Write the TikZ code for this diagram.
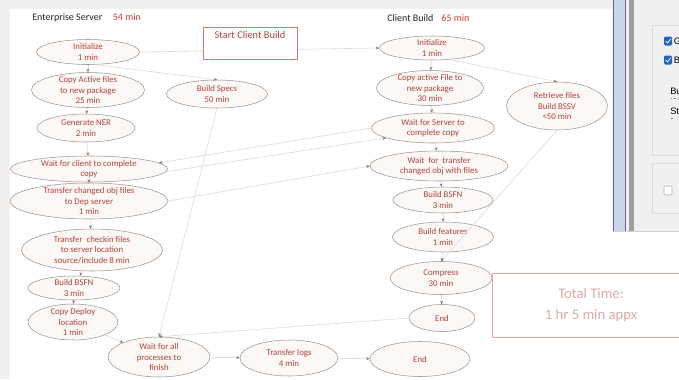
\documentclass[tikz,border=0pt]{standalone}
\usepackage{fontspec}
\setmainfont{Carlito}
\newfontfamily\uifont{Liberation Sans}
\usetikzlibrary{shapes.geometric,arrows.meta}

\begin{document}
\begin{tikzpicture}[x=0.75pt,y=-0.75pt,
    proc/.style={ellipse,draw=elline,fill=elfill,line width=0.4pt,text=txtred,
      font=\fontsize{6.6}{7.9}\selectfont,align=center,inner xsep=-40pt,inner ysep=-12pt},
    dims/.style 2 args={minimum width=#1*0.75pt,minimum height=#2*0.75pt},
    lnk/.style={draw=edgecol,line width=0.45pt,-{Stealth[length=2.6pt,width=2.2pt,color=tipcol]}},
    head/.style={anchor=west,inner sep=0pt,text=black!85,font=\fontsize{7.5}{9}\selectfont},
    uitxt/.style={anchor=west,inner sep=0pt,font=\uifont\fontsize{7}{8}\selectfont}]
        %colores
        \definecolor{txtred}{HTML}{B5423A}
        \definecolor{headred}{HTML}{D93A2F}
        \definecolor{elline}{HTML}{9C9696}
        \definecolor{elfill}{HTML}{FCF8F6}
        \definecolor{edgecol}{HTML}{E3D8D8}
        \definecolor{tipcol}{HTML}{8C6F6F}
        \definecolor{framegray}{HTML}{F2F0EE}
        \definecolor{panelgray}{HTML}{F0F0F0}
        \definecolor{stripblue}{HTML}{C8D6EA}
        \definecolor{cbblue}{HTML}{1F63C6}

        \useasboundingbox (0,0) rectangle (679,379);
        % fondo
        \fill[framegray] (0,0) rectangle (679,379);
        \fill[white] (10,9) -- (612,9) -- (612,231) -- (679,231) -- (679,379) -- (10,379) -- cycle;

        % ventana a la derecha
        \fill[panelgray] (634,0) rectangle (679,231);
        \fill[stripblue] (613,0) rectangle (625,231);
        \draw[gray!80!blue] (613,0) -- (613,231) (625,0) -- (625,231);
        \fill[gray!75] (629,0) rectangle (634,231);
        \draw[gray!35] (613,231.5) -- (679,231.5);
        \draw[gray!30] (679,25) -| (652,155) -- (679,155);
        \draw[gray!30] (679,163) -| (652,213) -- (679,213);
        \foreach \y/\t in {41/G,60/B}{
            \fill[cbblue,rounded corners=1pt] (664,\y-4.5) rectangle (672,\y+4.5);
            \draw[white,line width=0.6pt] (665.6,\y) -- (667.6,\y+2) -- (670.6,\y-2.2);
            \node[uitxt] (ui\t) at (673.5,\y) {\t};
        }
        \node[uitxt] (uibu) at (670,91) {Bu};
        \draw[gray,dash pattern=on 1pt off 1.6pt] (671,98) -- (679,98);
        \node[uitxt] (uist) at (670,111) {St};
        \draw[gray] (671,118) -- (673,118);
        \draw[gray!60,fill=white,rounded corners=1pt] (664,186) rectangle (672,195);

        % titulos
        \node[head] (eshead) at (32,18) {Enterprise Server\hspace{8pt}\textcolor{headred}{54 min}};
        \node[head] (cbhead) at (387,18) {Client Build\hspace{6pt}\textcolor{headred}{65 min}};

        % Enterprise Server
        \node[proc,dims={103}{25}] (esinit) at (88,52) {Initialize\\1 min};
        \node[proc,dims={113}{35}] (escopy) at (88,90) {Copy Active files\\to new package\\25 min};
        \node[proc,dims={98}{28}] (esner) at (86,128) {Generate NER\\2 min};
        \node[proc,dims={157}{26}] (eswait) at (89,169) {Wait for client to complete\\copy};
        \node[proc,dims={158}{36}] (estrans) at (89,201) {Transfer changed obj files\\to Dep server\\1 min};
        \node[proc,dims={141}{42}] (escheck) at (92,250) {Transfer\ \ checkin files\\to server location\\source/include 8 min};
        \node[proc,dims={92}{24}] (esbsfn) at (74,288) {Build BSFN\\3 min};
        \node[proc,dims={90}{36}] (esdeploy) at (73,322) {Copy Deploy\\location\\1 min};
        \node[proc,dims={101}{28}] (specs) at (217,94) {Build Specs\\50 min};
        \node[proc,dims={102}{40}] (waitall) at (159,357) {Wait for all\\processes to\\finish};
        \node[proc,dims={98}{36}] (logs) at (289,358) {Transfer logs\\4 min};
        \node[proc,dims={100}{35}] (fin) at (420,359) {End};

        % Client Build
        \node[proc,dims={105}{24}] (cbinit) at (432,48) {Initialize\\1 min};
        \node[proc,dims={107}{35}] (cbcopy) at (430,88) {Copy active File to\\new package\\30 min};
        \node[proc,dims={101}{48}] (bssv) at (557,106) {Retrieve files\\Build BSSV\\<50 min};
        \node[proc,dims={123}{30}] (cbwait) at (433,128) {Wait for Server to\\complete copy};
        \node[proc,dims={138}{30}] (cbtrans) at (439,166) {Wait\ \ for\ \ transfer\\changed obj with files};
        \node[proc,dims={100}{26}] (cbbsfn) at (443,200) {Build BSFN\\3 min};
        \node[proc,dims={101}{30}] (cbfeat) at (443,237) {Build features\\1 min};
        \node[proc,dims={102}{33}] (compress) at (441,278) {Compress\\30 min};
        \node[proc,dims={66}{27}] (cbend) at (442,318) {End};

        % flechas
        \foreach \a/\b in {esinit/escopy,escopy/esner,esner/eswait,eswait/estrans,estrans/escheck,
            escheck/esbsfn,esbsfn/esdeploy,esdeploy/waitall,waitall/logs,logs/fin,
            cbinit/cbcopy,cbcopy/cbwait,cbwait/cbtrans,cbtrans/cbbsfn,cbbsfn/cbfeat,
            cbfeat/compress,compress/cbend}
            \draw[lnk] (\a) -- (\b);
        \draw[lnk] (esinit.east) -- (cbinit.west);
        \draw[lnk] (esinit.-60) -- (specs.north);
        \draw[lnk] (specs.south) -- (waitall.north);
        \draw[lnk] (cbinit.-34) -- (bssv.north);
        \draw[lnk] (bssv.south) -- (compress.north);
        \draw[lnk] (cbwait.west) -- (eswait.5);
        \draw[lnk] (eswait.-2) -- (cbwait.192);
        \draw[lnk] (estrans.east) -- (cbtrans.west);
        \draw[lnk] (cbend.west) -- (waitall.north);

        % cajas de texto
        \node[draw=txtred!70,fill=white,line width=0.4pt,text=txtred,font=\fontsize{7.8}{9}\selectfont,
            minimum width=70.5pt,inner ysep=3pt,text height=5.8pt,text depth=12.2pt] (startcb) at (250,43) {Start Client Build};
        \node[draw=txtred!45,line width=0.4pt,text=txtred!45,font=\fontsize{11}{15.5}\selectfont,align=center,
            minimum width=148.5pt,minimum height=48pt] (total) at (591,305) {Total Time:\\1 hr 5 min appx};
\end{tikzpicture}
\end{document}
